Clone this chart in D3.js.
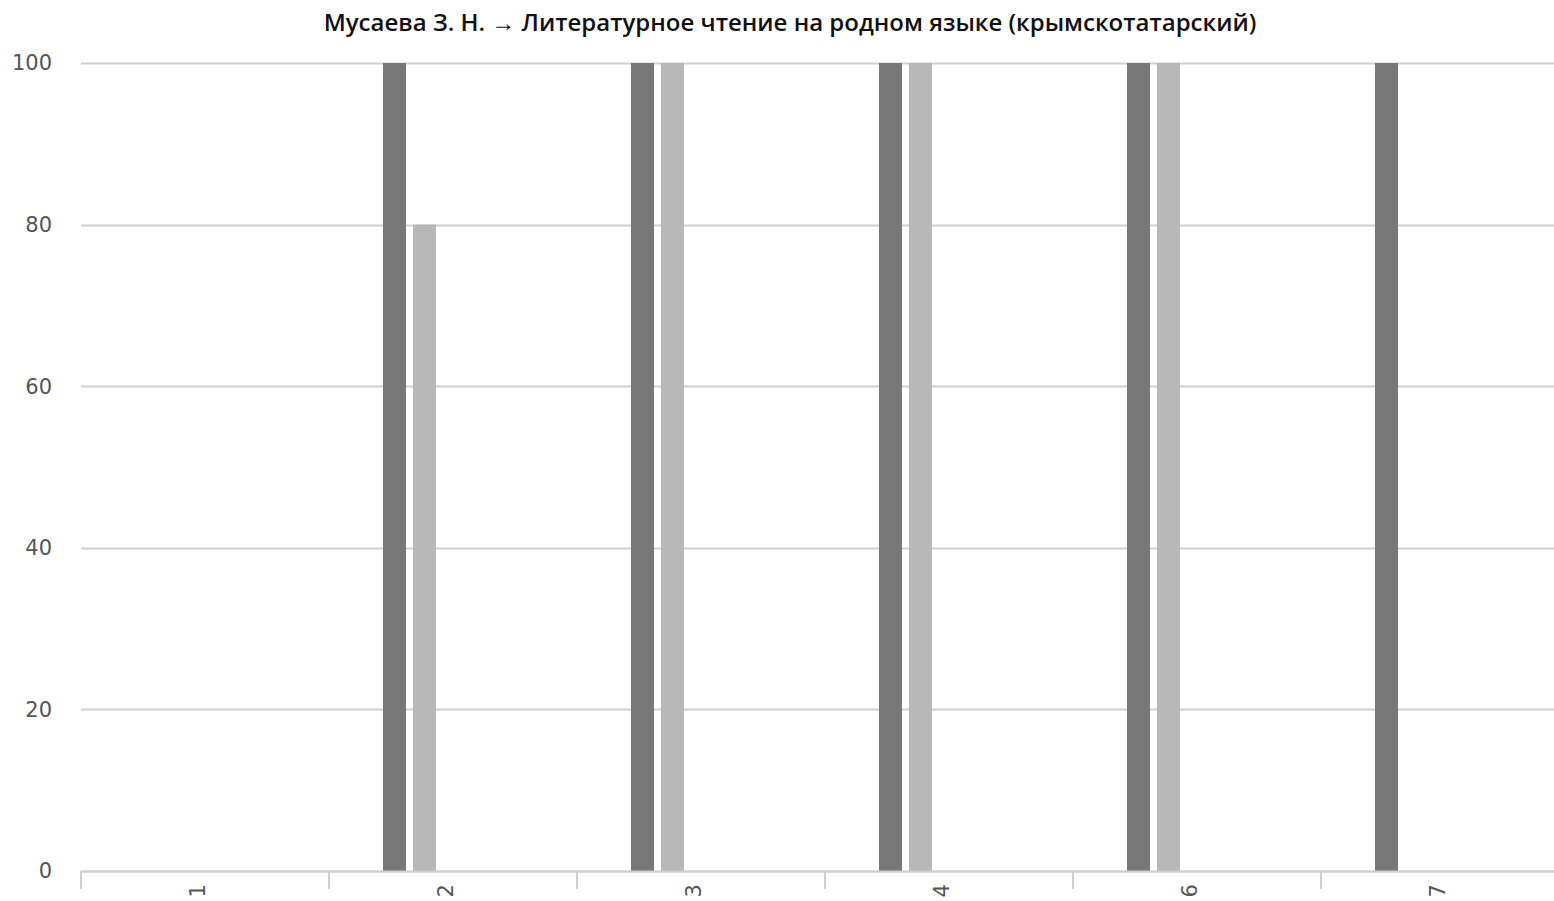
<!DOCTYPE html>
<html><head><meta charset="utf-8">
<script src="https://cdn.jsdelivr.net/npm/d3@7"></script>
<style>body{margin:0;background:#fff;overflow:hidden}svg{display:block}</style>
</head><body>
<svg id="c" width="1554" height="901"></svg>
<script>
const titleText = "Мусаева З. Н. → Литературное чтение на родном языке (крымскотатарский)";
const categories = ["1", "2", "3", "4", "6", "7"];
const seriesNames = ["s1", "s2", "s3", "s4", "s5"];
const series1 = [0, 100, 100, 100, 100, 100];
const series2 = [0, 80, 100, 100, 100, 0];
const series3 = [0, 0, 0, 0, 0, 0];
const series4 = [0, 0, 0, 0, 0, 0];
const series5 = [0, 0, 0, 0, 0, 0];
const seriesColors = ["#787878", "#b8b8b8", "#989898", "#d0d0d0", "#606060"];
const yTicks = [0, 20, 40, 60, 80, 100];

(function () {
const allSeries = [series1, series2, series3, series4, series5];
const svg = d3.select("#c");
const mLeft = 81, mTop = 63, mBottom = 871, bandW = 248;
const x = d3.scaleBand().domain(categories).range([mLeft, mLeft + bandW * categories.length]).paddingInner(0).paddingOuter(0);
const xs = d3.scaleBand().domain(seriesNames).range([54, 54 + 30 * 5 - 7]).paddingInner(7 / 30).paddingOuter(0);
const y = d3.scaleLinear().domain([0, 100]).range([mBottom, mTop]);

svg.append("g").selectAll("line").data(yTicks).join("line")
  .attr("x1", mLeft).attr("x2", 1554)
  .attr("y1", d => Math.round(y(d)) + 0.5).attr("y2", d => Math.round(y(d)) + 0.5)
  .attr("stroke", "#cfcfcf").attr("stroke-width", 2);

svg.append("g").selectAll("text").data(yTicks).join("text")
  .attr("x", 52).attr("y", d => y(d)).attr("dy", "0.35em")
  .attr("text-anchor", "end").attr("font-family", "DejaVu Sans, sans-serif")
  .attr("font-size", 21).attr("fill", "#555").text(d => d);

const g = svg.append("g");
categories.forEach((c, i) => {
  allSeries.forEach((s, j) => {
    const v = s[i];
    if (v <= 0) return;
    g.append("rect")
      .attr("x", x(c) + xs(seriesNames[j]))
      .attr("y", y(v))
      .attr("width", xs.bandwidth())
      .attr("height", y(0) - y(v))
      .attr("fill", seriesColors[j]);
  });
});

const tickPos = categories.map(c => x(c));
svg.append("line").attr("x1", mLeft).attr("x2", 1554).attr("y1", mBottom + 0.5).attr("y2", mBottom + 0.5)
  .attr("stroke", "#cfcfcf").attr("stroke-width", 2);
svg.append("g").selectAll("line").data(tickPos).join("line")
  .attr("x1", d => Math.round(d)).attr("x2", d => Math.round(d))
  .attr("y1", mBottom).attr("y2", mBottom + 18)
  .attr("stroke", "#cfcfcf").attr("stroke-width", 2);

svg.append("g").selectAll("text").data(categories).join("text")
  .attr("transform", c => `translate(${x(c) + x.bandwidth() / 2},884) rotate(-90)`)
  .attr("text-anchor", "end")
  .attr("font-family", "DejaVu Sans, sans-serif").attr("font-size", 21).attr("fill", "#555")
  .text(c => c);

svg.append("text").attr("x", 790).attr("y", 31).attr("text-anchor", "middle")
  .attr("font-family", "Open Sans, sans-serif").attr("font-weight", 600).attr("font-size", 24)
  .attr("fill", "#111").text(titleText);
})();
</script>
</body></html>
